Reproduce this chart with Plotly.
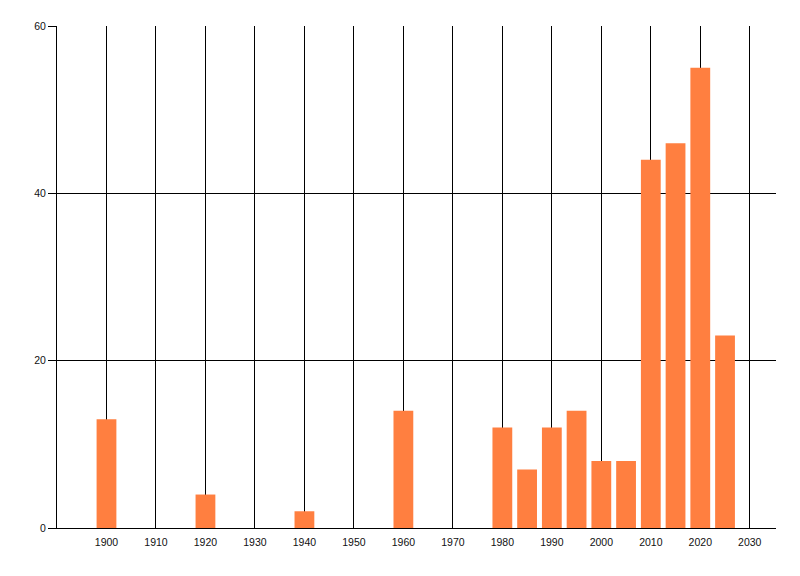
import plotly.graph_objects as go

# 데이터
years = [1900, 1920, 1940, 1960, 1980, 1985, 1990, 1995, 2000, 2005, 2010, 2015, 2020, 2025]
counts = [13, 4, 2, 14, 12, 7, 12, 14, 8, 8, 44, 46, 55, 23]
x_ticks = [1900, 1910, 1920, 1930, 1940, 1950, 1960, 1970, 1980, 1990, 2000, 2010, 2020, 2030]
y_ticks = [0, 20, 40, 60]

fig = go.Figure()

fig.add_trace(go.Bar(
    x=years,
    y=counts,
    width=4,
    marker_color='#FF7F40',
    marker_line_width=0,
))

fig.update_layout(
    width=800,
    height=576,
    margin=dict(l=57, r=24, t=26, b=48, autoexpand=False),
    paper_bgcolor='white',
    plot_bgcolor='white',
    showlegend=False,
    font=dict(family='Liberation Sans, Arial, sans-serif', size=10.5, color='#111111'),
    xaxis=dict(
        range=[1890, 2035.3],
        tickvals=x_ticks,
        showgrid=True,
        gridcolor='black',
        gridwidth=1,
        zeroline=False,
        showline=True,
        linecolor='black',
        linewidth=1,
        ticks='',
        ticklabelstandoff=4,
        automargin=False,
    ),
    yaxis=dict(
        range=[0, 60],
        tickvals=y_ticks,
        showgrid=True,
        gridcolor='black',
        gridwidth=1,
        zeroline=False,
        showline=True,
        linecolor='black',
        linewidth=1,
        ticks='outside',
        ticklen=8,
        tickcolor='black',
        ticklabelstandoff=0,
        automargin=False,
    ),
)

# 페이지 기본 여백 제거, 모드바 숨김
fig.write_html(
    "out.html",
    config={'displayModeBar': False},
    post_script="document.body.style.margin='0';",
)
